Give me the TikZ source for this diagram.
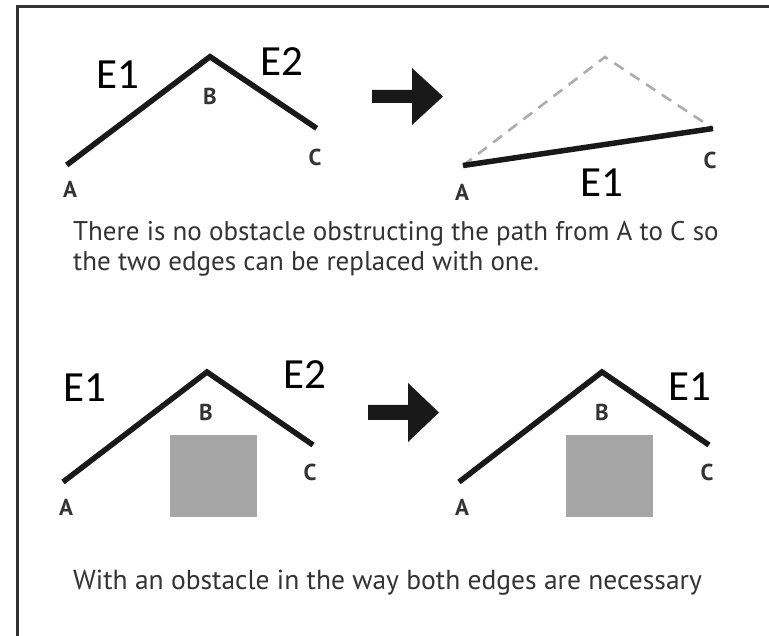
\documentclass[tikz,border=0pt]{standalone}
\usepackage{fontspec}
\setmainfont{PT Sans}
\newfontfamily\edgefont{Carlito}
\begin{document}
\begin{tikzpicture}[x=1pt,y=-1pt,
  edge/.style={line width=5.5pt,draw=black!90},
  ghost/.style={line width=2.6pt,draw=black!32,dash pattern=on 11pt off 8pt},
  ptlabel/.style={font=\fontsize{23}{23}\selectfont\bfseries,text=black!80,inner sep=0pt},
  elabel/.style={font=\edgefont\fontsize{43}{43}\selectfont,inner sep=0pt},
  caption/.style={font=\fontsize{27}{30}\selectfont,text=black!80,inner sep=0pt,anchor=base west},
  obstacle/.style={fill=black!35,draw=none},
  bigarrow/.style={fill=black!90,draw=none},
  frame/.style={line width=3pt,draw=black!80}]
\useasboundingbox (0,0) rectangle (769,636);
\fill[white] (0,0) rectangle (769,636);
% frame
\draw[frame] (17.5,636) -- (17.5,6.5) -- (769,6.5);

% ---------- top left
\coordinate (a1) at (66.7,165);
\coordinate (b1) at (210,56.7);
\coordinate (c1) at (316.7,128.3);
\draw[edge] (a1) -- (b1) -- (c1);
\node[ptlabel] (la1) at (70,189) {A};
\node[ptlabel] (lb1) at (210,96) {B};
\node[ptlabel] (lc1) at (315,157) {C};
\node[elabel] (e11) at (118,75) {E1};
\node[elabel] (e21) at (282,62) {E2};

% arrow 1
\fill[bigarrow] (372,90) -- (412,90) -- (412,68) -- (443,96.5) -- (412,125) -- (412,103) -- (372,103) -- cycle;

% ---------- top right
\coordinate (a2) at (463,165.5);
\coordinate (b2) at (605,57);
\coordinate (c2) at (713,128.5);
\draw[ghost] (a2) -- (b2) -- (c2);
\draw[edge] (a2) -- (c2);
\node[ptlabel] (la2) at (462,192) {A};
\node[ptlabel] (lc2) at (710,160) {C};
\node[elabel] (e12) at (602,183) {E1};

% caption 1
\node[caption] (cap1a) at (73,241) {There is no obstacle obstructing the path from A to C so};
\node[caption] (cap1b) at (73,271) {the two edges can be replaced with one.};

% ---------- bottom left
\fill[obstacle] (170,435) rectangle (257,517);
\coordinate (a3) at (63,482);
\coordinate (b3) at (207,372);
\coordinate (c3) at (313,445);
\draw[edge] (a3) -- (b3) -- (c3);
\node[ptlabel] (la3) at (66,507) {A};
\node[ptlabel] (lb3) at (206,412) {B};
\node[ptlabel] (lc3) at (310,472) {C};
\node[elabel] (e13) at (85,388) {E1};
\node[elabel] (e23) at (305,375) {E2};

% arrow 2
\fill[bigarrow] (368,405) -- (408,405) -- (408,383) -- (439,412.5) -- (408,442) -- (408,420) -- (368,420) -- cycle;

% ---------- bottom right
\fill[obstacle] (566,435) rectangle (653,517);
\coordinate (a4) at (459,482);
\coordinate (b4) at (602,372);
\coordinate (c4) at (709,445);
\draw[edge] (a4) -- (b4) -- (c4);
\node[ptlabel] (la4) at (462,507) {A};
\node[ptlabel] (lb4) at (602,412) {B};
\node[ptlabel] (lc4) at (707,472) {C};
\node[elabel] (e14) at (690,387) {E1};

% caption 2
\node[caption,font=\fontsize{27.5}{30}\selectfont] (cap2) at (73,589) {With an obstacle in the way both edges are necessary};
\end{tikzpicture}
\end{document}
